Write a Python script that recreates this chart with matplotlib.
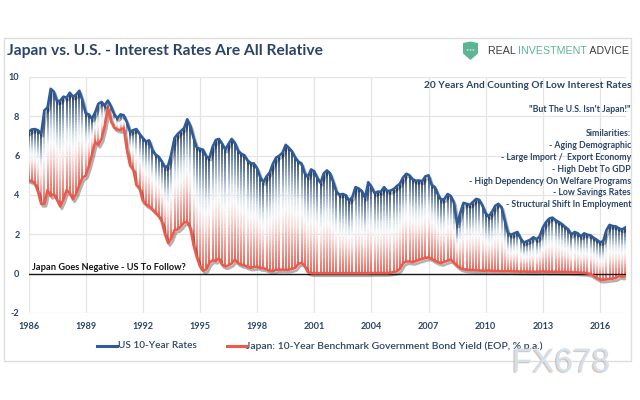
import numpy as np
import matplotlib
matplotlib.use("Agg")
import matplotlib.pyplot as plt
from matplotlib.collections import LineCollection
from matplotlib.colors import LinearSegmentedColormap
import matplotlib.patheffects as pe
from matplotlib.patches import Rectangle, Polygon, Circle
from matplotlib.lines import Line2D

# ---------------- data (bi-monthly samples) ----------------
start_year = 1986
periods_per_year = 6

us_rates = [
    7.20, 7.33, 7.35, 7.29, 7.12, 8.30,   # 1986
    8.45, 9.40, 9.25, 8.75, 8.80, 9.00,   # 1987
    8.95, 9.20, 9.00, 9.10, 9.30, 8.80,   # 1988
    8.15, 8.10, 7.88, 8.20, 8.64, 8.73,   # 1989
    8.55, 8.80, 8.50, 8.10, 7.90, 8.10,   # 1990
    8.05, 7.70, 7.20, 7.30, 7.35, 7.10,   # 1991
    6.90, 6.72, 6.78, 6.30, 6.05, 5.95,   # 1992
    5.70, 5.40, 5.50, 6.10, 6.90, 7.10,   # 1993
    7.25, 7.40, 7.85, 7.50, 6.90, 6.40,   # 1994
    6.35, 6.30, 5.95, 5.90, 6.45, 6.80,   # 1995
    6.85, 6.60, 6.30, 6.60, 6.85, 6.65,   # 1996
    6.25, 6.10, 6.02, 5.75, 5.62, 5.60,   # 1997
    5.35, 4.90, 4.65, 4.95, 5.15, 5.60,   # 1998
    5.90, 6.00, 6.15, 6.55, 6.40, 6.22,   # 1999
    5.90, 5.70, 5.60, 5.10, 4.93, 5.30,   # 2000
    5.20, 4.85, 4.62, 5.10, 5.25, 5.10,   # 2001
    4.65, 4.15, 4.02, 4.05, 3.98, 3.70,   # 2002
    3.90, 4.40, 4.33, 4.20, 3.85, 4.65,   # 2003
    4.42, 4.09, 4.17, 4.17, 4.40, 4.20,   # 2004
    4.22, 4.30, 4.45, 4.58, 4.90, 5.08,   # 2005
    5.00, 4.80, 4.72, 4.74, 4.70, 4.95,   # 2006
    5.00, 4.50, 4.40, 4.00, 3.75, 3.80,   # 2007
    4.05, 3.95, 3.60, 2.50, 3.10, 3.60,   # 2008
    3.55, 3.50, 3.65, 3.80, 3.75, 3.45,   # 2009
    3.05, 2.92, 3.15, 3.45, 3.55, 3.38,   # 2010
    2.70, 2.06, 1.98, 2.05, 2.12, 1.78,   # 2011
    1.58, 1.65, 1.72, 1.85, 1.75, 1.90,   # 2012
    2.35, 2.62, 2.80, 2.85, 2.72, 2.63,   # 2013
    2.52, 2.38, 2.25, 1.98, 2.12, 2.05,   # 2014
    1.90, 2.05, 1.98, 1.95, 1.82, 1.72,   # 2015
    1.60, 1.65, 2.20, 2.48, 2.42, 2.40,   # 2016
    2.30, 2.25, 2.35,                     # 2017
]

japan_rates = [
    4.76, 4.70, 4.60, 4.17, 3.55, 3.55,   # 1986
    4.25, 3.95, 4.05, 3.75, 3.42, 3.78,   # 1987
    4.25, 4.10, 3.78, 4.05, 4.50, 4.88,   # 1988
    4.98, 5.45, 6.05, 6.70, 6.55, 6.85,   # 1989
    7.50, 8.45, 7.75, 7.42, 7.33, 7.30,   # 1990
    7.40, 6.30, 5.50, 5.30, 4.50, 4.35,   # 1991
    3.70, 3.52, 3.42, 3.28, 3.10, 2.95,   # 1992
    2.65, 2.00, 1.55, 1.80, 2.22, 2.25,   # 1993
    2.40, 2.60, 2.63, 2.30, 1.45, 0.85,   # 1994
    0.37, 0.15, 0.22, 0.55, 0.68, 0.65,   # 1995
    0.78, 0.45, 0.37, 0.42, 0.52, 0.71,   # 1996
    0.54, 0.46, 0.42, 0.35, 0.30, 0.33,   # 1997
    0.36, 0.29, 0.28, 0.22, 0.15, 0.13,   # 1998
    0.20, 0.20, 0.21, 0.20, 0.20, 0.24,   # 1999
    0.30, 0.50, 0.55, 0.40, 0.08, 0.03,   # 2000
    0.02, 0.02, 0.02, 0.02, 0.02, 0.02,   # 2001
    0.02, 0.02, 0.02, 0.02, 0.02, 0.02,   # 2002
    0.02, 0.02, 0.02, 0.02, 0.02, 0.02,   # 2003
    0.03, 0.03, 0.03, 0.03, 0.03, 0.03,   # 2004
    0.05, 0.08, 0.12, 0.25, 0.54, 0.62,   # 2005
    0.62, 0.59, 0.64, 0.70, 0.75, 0.80,   # 2006
    0.83, 0.75, 0.66, 0.58, 0.54, 0.60,   # 2007
    0.66, 0.71, 0.56, 0.40, 0.28, 0.23,   # 2008
    0.20, 0.19, 0.18, 0.17, 0.16, 0.15,   # 2009
    0.15, 0.16, 0.14, 0.13, 0.13, 0.12,   # 2010
    0.12, 0.13, 0.12, 0.11, 0.11, 0.10,   # 2011
    0.11, 0.10, 0.10, 0.09, 0.10, 0.10,   # 2012
    0.11, 0.10, 0.09, 0.10, 0.09, 0.09,   # 2013
    0.08, 0.09, 0.08, 0.07, 0.07, 0.06,   # 2014
    0.05, 0.04, 0.02, -0.02, -0.12, -0.22,  # 2015
    -0.30, -0.31, -0.29, -0.27, -0.25, -0.22,  # 2016
    -0.12, -0.15, -0.14,                  # 2017
]

x_tick_years = [1986, 1989, 1992, 1995, 1998, 2001, 2004, 2007, 2010, 2013, 2016]
x_tick_labels = [str(y) for y in x_tick_years]
y_ticks = [-2, 0, 2, 4, 6, 8, 10]
y_tick_labels = ["-2", "0", "2", "4", "6", "8", "10"]

title_text = "Japan vs. U.S. - Interest Rates Are All Relative"
us_label = "US 10-Year Rates"
japan_label = "Japan: 10-Year Benchmark Government Bond Yield (EOP, % p.a.)"
headline = "20 Years And Counting Of Low Interest Rates"
quote = "\"But The U.S. Isn't Japan!\""
similarities = [
    "Similarities:",
    "- Aging Demographic",
    "- Large Import /  Export Economy",
    "- High Debt To GDP",
    "- High Dependency On Welfare Programs",
    "- Low Savings Rates",
    "- Structural Shift In Employment",
]
negative_note = "Japan Goes Negative - US To Follow?"

# ---------------- styling ----------------
NAVY = "#2b4468"
US_BLUE = "#2e5c9b"
JP_RED = "#eb5a4b"
FONT = ["Lato", "DejaVu Sans"]

W, H = 640, 400
fig = plt.figure(figsize=(6.4, 4.0), dpi=100)
fig.patch.set_facecolor("white")


def fx(px):
    return px / W


def fy(py):
    return 1 - py / H


renderer = fig.canvas.get_renderer()


def fit(t, target_px):
    w = t.get_window_extent(renderer).width
    t.set_fontsize(t.get_fontsize() * target_px / w)
    return t


# outer light border
fig.patches.append(Rectangle((fx(4), fy(361)), fx(631) - fx(4), fy(38) - fy(361),
                             transform=fig.transFigure, fill=False,
                             edgecolor="#dedede", linewidth=1.0, zorder=0))

# ---------------- axes ----------------
dates = start_year + np.arange(len(us_rates)) / periods_per_year
ax = fig.add_axes([fx(28.5), fy(313), fx(626) - fx(28.5), fy(77) - fy(313)])
ax.set_xlim(start_year, dates[-1] + 0.03)
ax.set_ylim(-2, 10)
for s in ax.spines.values():
    s.set_visible(False)
ax.set_xticks(x_tick_years)
ax.set_xticklabels(x_tick_labels)
ax.set_yticks(y_ticks)
ax.set_yticklabels(y_tick_labels)
ax.tick_params(length=0, colors=NAVY, labelsize=6.6)
ax.tick_params(axis="y", pad=6.5)
ax.tick_params(axis="x", pad=6.5)
for lab in ax.get_xticklabels() + ax.get_yticklabels():
    lab.set_fontweight("bold")
    lab.set_family(FONT)
ax.grid(True, color="#e4e4e4", linewidth=0.9)
ax.set_axisbelow(True)

# gradient vertical "high-low" lines between Japan and US
cmap = LinearSegmentedColormap.from_list("spread", [
    (0.00, "#e9554a"), (0.16, "#f2897f"), (0.36, "#fbd6d2"),
    (0.50, "#f6f8fb"), (0.63, "#d3deec"), (0.82, "#7088aa"), (1.00, "#1e3a62")])
n_sub = 36
frac = np.linspace(0, 1, n_sub + 1)
segs, cols = [], []
for d, lo, hi in zip(dates, japan_rates, us_rates):
    ys = lo + (hi - lo) * frac
    for k in range(n_sub):
        segs.append([(d, ys[k]), (d, ys[k + 1])])
        cols.append(cmap((k + 0.5) / n_sub))
lc = LineCollection(segs, colors=cols, linewidths=1.3, capstyle="butt", zorder=2)
ax.add_collection(lc)

ax.axhline(0, color="#1a1a1a", linewidth=1.0, zorder=3)

shadow = [pe.SimpleLineShadow(offset=(1.2, -1.8), shadow_color="black", alpha=0.3),
          pe.Normal()]
ax.plot(dates, japan_rates, color=JP_RED, linewidth=1.9, zorder=4,
        solid_joinstyle="round", path_effects=shadow)
ax.plot(dates, us_rates, color=US_BLUE, linewidth=1.9, zorder=5,
        solid_joinstyle="round", path_effects=shadow)

# ---------------- texts ----------------
t = fig.text(fx(7), fy(51), title_text, ha="left", va="center", color=NAVY,
             fontweight="bold", family=FONT, fontsize=12)
fit(t, 316)

# logo
shield = [(463, 43), (470.5, 41.5), (478, 43), (478, 53.5), (470.5, 60), (463, 53.5)]
fig.patches.append(Polygon([(fx(a), fy(b)) for a, b in shield], closed=True,
                           transform=fig.transFigure, facecolor="#5db693",
                           edgecolor="none"))
for cx in (467.6, 470.5, 473.4):
    fig.patches.append(Circle((fx(cx), fy(50)), 0.9 / W, transform=fig.transFigure,
                              facecolor="white", edgecolor="none"))
logo_parts = [("REAL ", "#3d3d3d"), ("INVESTMENT", "#5db693"), (" ADVICE", "#3d3d3d")]
full = fig.text(0, 0, "".join(p for p, _ in logo_parts), family=["Liberation Sans", "DejaVu Sans"],
                fontsize=9)
fit(full, 140)
logo_fs = full.get_fontsize()
full.remove()
xcur = 488.0
for part, col in logo_parts:
    tt = fig.text(fx(xcur), fy(51), part, ha="left", va="center", color=col,
                  family=["Liberation Sans", "DejaVu Sans"], fontsize=logo_fs)
    xcur += tt.get_window_extent(renderer).width

# annotations (right aligned)
t = fig.text(fx(631), fy(85), headline, ha="right", va="center", color=NAVY,
             fontweight="bold", family=FONT, fontsize=8)
fit(t, 208)
t = fig.text(fx(631), fy(109), quote, ha="right", va="center", color=NAVY,
             fontweight="bold", family=FONT, fontsize=7)
ref = fig.text(0, 0, similarities[4], fontweight="bold", family=FONT, fontsize=7)
fit(ref, 165)
sim_fs = ref.get_fontsize()
ref.remove()
t.set_fontsize(sim_fs)
sim_y = [133, 145, 157.5, 169, 181, 193, 205]
for line, yy in zip(similarities, sim_y):
    fig.text(fx(631), fy(yy), line, ha="right", va="center", color=NAVY,
             fontweight="bold", family=FONT, fontsize=sim_fs)

t = fig.text(fx(32.5), fy(267), negative_note, ha="left", va="center", color="#141414",
             fontweight="bold", family=FONT, fontsize=7)
fit(t, 156)

# legend
fig.lines.append(Line2D([fx(97), fx(117)], [fy(346), fy(346)], transform=fig.transFigure,
                        color=US_BLUE, linewidth=2.2))
t = fig.text(fx(117.5), fy(346), us_label, ha="left", va="center", color=NAVY,
             family=FONT, fontweight="semibold", fontsize=7)
fit(t, 79)
fig.lines.append(Line2D([fx(227), fx(245.5)], [fy(346), fy(346)], transform=fig.transFigure,
                        color=JP_RED, linewidth=2.2))
t = fig.text(fx(246), fy(346), japan_label, ha="left", va="center", color=NAVY,
             family=FONT, fontweight="semibold", fontsize=7)
fit(t, 299)

# watermark
t = fig.text(fx(512), fy(363), "FX678", ha="left", va="center", color="#d3e0f0",
             family=["Liberation Sans", "DejaVu Sans"], fontsize=20,
             path_effects=[pe.withSimplePatchShadow(offset=(-1, -0.8),
                                                    shadow_rgbFace="#cbb092", alpha=0.7)])
fit(t, 98)

fig.savefig("out.png", dpi=100, facecolor="white")
